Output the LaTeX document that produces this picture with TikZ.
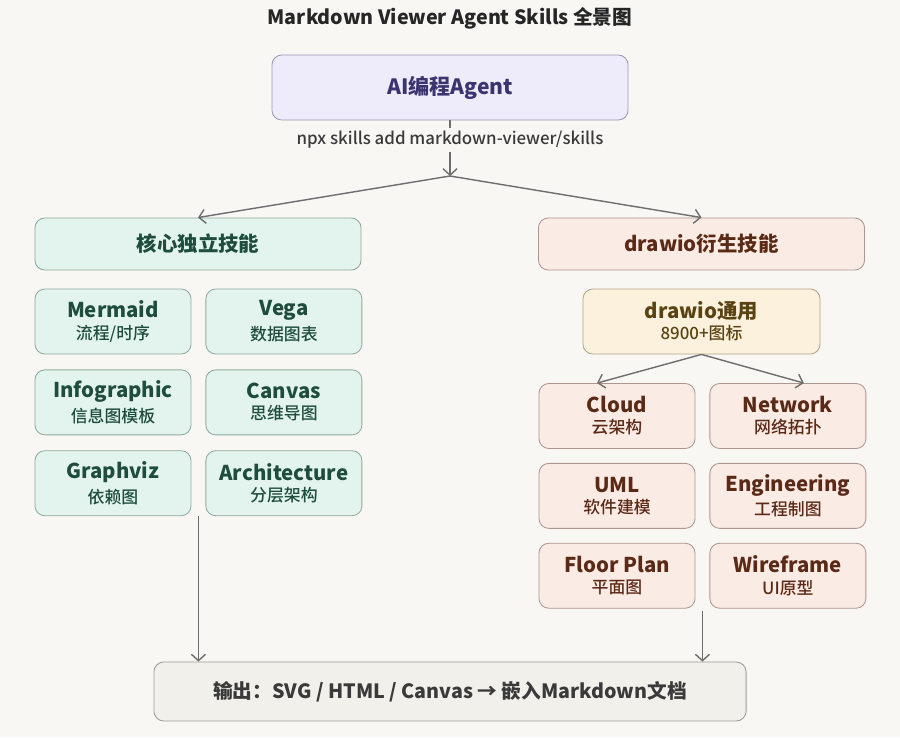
\documentclass[tikz,border=0pt]{standalone}
\usepackage{fontspec}
\setmainfont{Noto Sans CJK SC}
\newfontfamily\mediumfont{Noto Sans CJK SC Medium}
\usetikzlibrary{positioning,arrows.meta,calc}

\definecolor{bgpaper}{HTML}{F8F7F4}
\definecolor{agentfill}{HTML}{EEEBFA}
\definecolor{agentline}{HTML}{9C98B4}
\definecolor{agenttext}{HTML}{3B3470}
\definecolor{corefill}{HTML}{E3F4EE}
\definecolor{coreline}{HTML}{8FAA9F}
\definecolor{coretext}{HTML}{1E4D3D}
\definecolor{drawfill}{HTML}{FBEBE5}
\definecolor{drawline}{HTML}{AC968D}
\definecolor{drawtext}{HTML}{5B2A17}
\definecolor{genfill}{HTML}{FCF1DD}
\definecolor{genline}{HTML}{B4A486}
\definecolor{gentext}{HTML}{5A4312}
\definecolor{outfill}{HTML}{F2F0EB}
\definecolor{outline}{HTML}{9C9B97}
\definecolor{outtext}{HTML}{3A3A3A}
\definecolor{arrowgray}{HTML}{6E6E6E}

\begin{document}
\begin{tikzpicture}[x=0.025cm, y=-0.025cm,
box/.style={rounded corners=7pt, line width=0.6pt, align=center, inner sep=0pt},
agentnode/.style={box, fill=agentfill, draw=agentline, text=agenttext, minimum width=8.9cm, minimum height=1.625cm, font=\fontsize{15}{18}\selectfont\bfseries},
corehead/.style={box, fill=corefill, draw=coreline, text=coretext, minimum width=8.15cm, minimum height=1.3cm, font=\fontsize{14.5}{18}\selectfont\bfseries},
coreskill/.style={box, fill=corefill, draw=coreline, text=coretext, minimum width=3.9cm, minimum height=1.625cm},
drawhead/.style={box, fill=drawfill, draw=drawline, text=drawtext, minimum width=8.15cm, minimum height=1.3cm, font=\fontsize{14.5}{18}\selectfont\bfseries},
drawskill/.style={box, fill=drawfill, draw=drawline, text=drawtext, minimum width=3.9cm, minimum height=1.625cm},
gennode/.style={box, fill=genfill, draw=genline, text=gentext, minimum width=5.925cm, minimum height=1.625cm},
outnode/.style={box, fill=outfill, draw=outline, text=outtext, minimum width=14.8cm, minimum height=1.475cm, font=\fontsize{14}{17}\selectfont\bfseries},
flow/.style={draw=arrowgray, line width=1pt, -{Straight Barb[length=4.5pt, width=10pt]}},
]

% background and frame
\fill[bgpaper] (0,0) rectangle (900,737);

% Title and entry point
\node[font=\fontsize{14}{17}\selectfont\bfseries, text=black!85] (title) at (450,18) {Markdown Viewer Agent Skills 全景图};
\node[agentnode] (agent) at (450,87.5) {AI编程Agent};
\node[font=\fontsize{12}{14}\selectfont\mediumfont, text=outtext, inner sep=2pt] (cmd) at (450,140) {npx skills add markdown-viewer/skills};
\coordinate (split) at (450,176);

% Two branches
\node[corehead] (core) at (198,244) {核心独立技能};
\node[drawhead] (derived) at (701.5,244) {drawio衍生技能};

% Core skills
\node[coreskill] (mermaid) at (113,321.5) {{\fontsize{14.5}{17}\selectfont\bfseries Mermaid}\\[3pt]{\fontsize{12}{14}\selectfont\mediumfont 流程/时序}};
\node[coreskill] (vega) [right=0.35cm of mermaid] {{\fontsize{14.5}{17}\selectfont\bfseries Vega}\\[3pt]{\fontsize{12}{14}\selectfont\mediumfont 数据图表}};
\node[coreskill] (infographic) [below=0.375cm of mermaid] {{\fontsize{14.5}{17}\selectfont\bfseries Infographic}\\[3pt]{\fontsize{12}{14}\selectfont\mediumfont 信息图模板}};
\node[coreskill] (canvas) [right=0.35cm of infographic] {{\fontsize{14.5}{17}\selectfont\bfseries Canvas}\\[3pt]{\fontsize{12}{14}\selectfont\mediumfont 思维导图}};
\node[coreskill] (graphviz) [below=0.375cm of infographic] {{\fontsize{14.5}{17}\selectfont\bfseries Graphviz}\\[3pt]{\fontsize{12}{14}\selectfont\mediumfont 依赖图}};
\node[coreskill] (architecture) [right=0.35cm of graphviz] {{\fontsize{14.5}{17}\selectfont\bfseries Architecture}\\[3pt]{\fontsize{12}{14}\selectfont\mediumfont 分层架构}};

% drawio skills
\node[gennode] (general) at (701.5,321.5) {{\fontsize{14.5}{17}\selectfont\bfseries drawio通用}\\[3pt]{\fontsize{12}{14}\selectfont\mediumfont 8900+图标}};
\node[drawskill] (cloud) at (617,416) {{\fontsize{14.5}{17}\selectfont\bfseries Cloud}\\[3pt]{\fontsize{12}{14}\selectfont\mediumfont 云架构}};
\node[drawskill] (network) [right=0.35cm of cloud] {{\fontsize{14.5}{17}\selectfont\bfseries Network}\\[3pt]{\fontsize{12}{14}\selectfont\mediumfont 网络拓扑}};
\node[drawskill] (uml) [below=0.35cm of cloud] {{\fontsize{14.5}{17}\selectfont\bfseries UML}\\[3pt]{\fontsize{12}{14}\selectfont\mediumfont 软件建模}};
\node[drawskill] (engineering) [right=0.35cm of uml] {{\fontsize{14.5}{17}\selectfont\bfseries Engineering}\\[3pt]{\fontsize{12}{14}\selectfont\mediumfont 工程制图}};
\node[drawskill] (floorplan) [below=0.35cm of uml] {{\fontsize{14.5}{17}\selectfont\bfseries Floor Plan}\\[3pt]{\fontsize{12}{14}\selectfont\mediumfont 平面图}};
\node[drawskill] (wireframe) [right=0.35cm of floorplan] {{\fontsize{14.5}{17}\selectfont\bfseries Wireframe}\\[3pt]{\fontsize{12}{14}\selectfont\mediumfont UI原型}};

% Output
\node[outnode] (output) at (450,691.5) {输出：SVG / HTML / Canvas → 嵌入Markdown文档};

% Connections from the agent
\draw[draw=arrowgray, line width=1pt] (agent) -- (cmd);
\draw[flow] (cmd) -- (split);
\draw[flow] (split) -- (core.north);
\draw[flow] (split) -- (derived.north);

% drawio general to the specific ones
\draw[flow] (general.south) -- ([xshift=-0.5cm]cloud.north);
\draw[flow] (general.south) -- ([xshift=0.4cm]network.north);

% Down to the output
\coordinate (leftout) at ($(graphviz.south east)!0.5!(architecture.south west)$);
\coordinate (rightout) at ($(floorplan.south east)!0.5!(wireframe.south west)$);
\draw[flow] (leftout) -- (leftout |- output.north);
\draw[flow] ([yshift=-2pt]rightout) -- (rightout |- output.north);

\end{tikzpicture}
\end{document}
